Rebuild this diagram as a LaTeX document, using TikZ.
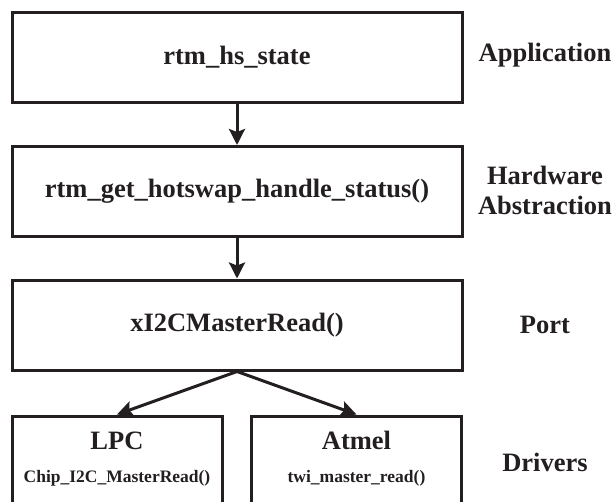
\documentclass[tikz,border=0pt]{standalone}
\usepackage{fontspec}
\setmainfont{Liberation Serif}
\usetikzlibrary{arrows.meta}
\definecolor{ink}{HTML}{231F20}
\tikzset{
  layer/.style={draw=ink, line width=3pt, minimum width=450pt, minimum height=90pt,
    inner sep=0pt, text=ink, font=\fontsize{26.5}{30}\selectfont\bfseries},
  drv/.style={layer, minimum width=210pt, minimum height=120pt, align=center},
  side/.style={text=ink, align=center, font=\fontsize{26.5}{30}\selectfont\bfseries},
  arr/.style={draw=ink, line width=3pt, -{Stealth[length=16pt,width=16pt,inset=3pt]}}
}
\newcommand{\fnname}[1]{{\fontsize{17.5}{20}\selectfont #1}}
\begin{document}
\begin{tikzpicture}[x=1pt,y=-1pt]
\clip (0,0) rectangle (616,501);
\node[layer] (app) at (237,57) {rtm\_hs\_state};
\node[layer] (hal) at (237,191.5) {rtm\_get\_hotswap\_handle\_status()};
\node[layer] (port) at (237,325) {xI2CMasterRead()};
\node[drv] (lpc) at (117,476) {LPC\\[3pt]\fnname{Chip\_I2C\_MasterRead()}\\[8pt]};
\node[drv] (atmel) at (356.5,476) {Atmel\\[3pt]\fnname{twi\_master\_read()}\\[8pt]};
% layer names on the right
\node[side] (lapp) at (545,55) {Application};
\node[side] (lhal) at (545,190) {Hardware\\Abstraction};
\node[side] (lport) at (545,325) {Port};
\node[side] (ldrv) at (545,462) {Drivers};
\draw[arr] (app) -- (hal);
\draw[arr] (hal) -- (port);
\draw[arr] (port.south) -- (lpc.north);
\draw[arr] (port.south) -- (atmel.north);
\end{tikzpicture}
\end{document}
